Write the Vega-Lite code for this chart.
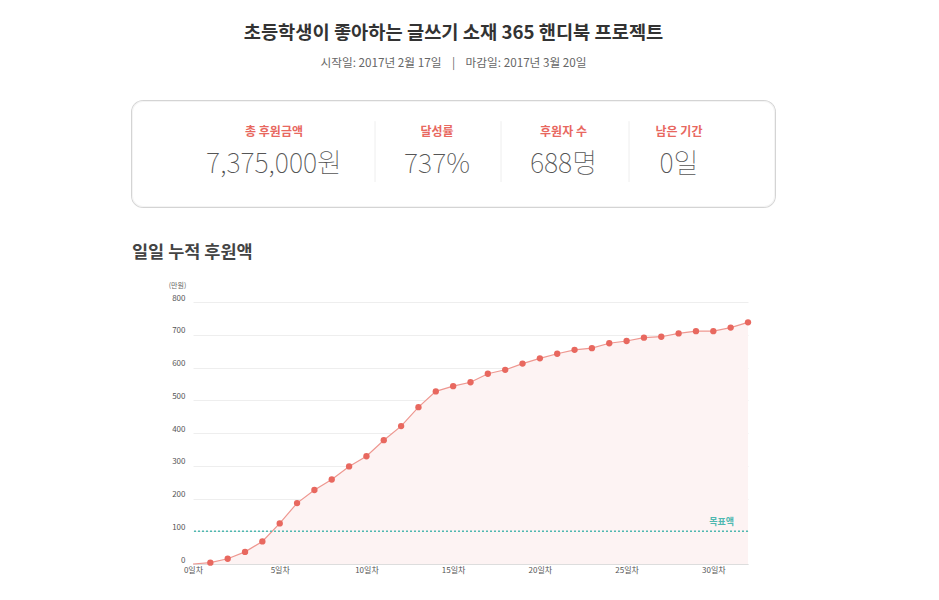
{
  "$schema": "https://vega.github.io/schema/vega-lite/v6.json",
  "background": "white",
  "padding": {"left": 131, "top": 23, "right": 10, "bottom": 5},
  "config": {
    "font": "Noto Sans CJK KR",
    "view": {"stroke": null}
  },
  "title": {
    "text": "초등학생이 좋아하는 글쓰기 소재 365 핸디북 프로젝트",
    "subtitle": "시작일: 2017년 2월 17일\u00a0\u00a0\u00a0\u00a0|\u00a0\u00a0\u00a0\u00a0마감일: 2017년 3월 20일",
    "anchor": "middle",
    "frame": "bounds",
    "font": "Noto Sans CJK KR",
    "fontSize": 18.7,
    "fontWeight": "bold",
    "color": "#333333",
    "subtitleFont": "Noto Sans CJK KR",
    "subtitleFontSize": 11.7,
    "subtitleColor": "#666666",
    "subtitlePadding": 16,
    "offset": 30
  },
  "spacing": 35,
  "vconcat": [
    {
      "width": 582,
      "height": 106,
      "data": {
        "values": [
          {"idx": 0, "label": "총 후원금액", "value": "7,375,000원"},
          {"idx": 1, "label": "달성률", "value": "737%"},
          {"idx": 2, "label": "후원자 수", "value": "688명"},
          {"idx": 3, "label": "남은 기간", "value": "0일"}
        ]
      },
      "layer": [
        {
          "mark": {"type": "rect", "fill": "white", "stroke": "#000000", "strokeOpacity": 0.045, "strokeWidth": 2, "cornerRadius": 11},
          "encoding": {
            "x": {"datum": -1, "type": "quantitative", "axis": null,
                  "scale": {"domain": [-1, 0, 0.5, 1, 1.5, 2, 2.5, 3, 4], "range": [-61, 81, 182, 244, 308, 370.5, 436, 486, 582], "nice": false, "zero": false}},
            "x2": {"datum": 4},
            "y": {"datum": 0, "type": "quantitative", "axis": null,
                  "scale": {"domain": [0, 10], "reverse": true, "nice": false, "zero": false}},
            "y2": {"datum": 10}
          }
        },
        {
          "mark": {"type": "text", "fontSize": 12, "fontWeight": "bold", "color": "#e8685f", "baseline": "middle"},
          "encoding": {
            "x": {"field": "idx", "type": "quantitative"},
            "y": {"datum": 2.9, "type": "quantitative"},
            "text": {"field": "label"}
          }
        },
        {
          "mark": {"type": "text", "fontSize": 27, "fontWeight": 100, "color": "#555555", "baseline": "middle"},
          "encoding": {
            "x": {"field": "idx", "type": "quantitative"},
            "y": {"datum": 6.0, "type": "quantitative"},
            "text": {"field": "value"}
          }
        },
        {
          "data": {"values": [{"gap": 0.5}, {"gap": 1.5}, {"gap": 2.5}]},
          "mark": {"type": "rule", "color": "#eeeeee", "strokeWidth": 1},
          "encoding": {
            "x": {"field": "gap", "type": "quantitative"},
            "y": {"datum": 1.9, "type": "quantitative"},
            "y2": {"datum": 7.65}
          }
        }
      ]
    },
    {
      "width": 555,
      "height": 262,
      "title": {
        "text": "일일 누적 후원액",
        "anchor": "start",
        "frame": "group",
        "dx": -61,
        "fontSize": 17.5,
        "fontWeight": "bold",
        "color": "#444444",
        "offset": 20
      },
      "data": {
        "values": [
          {"day": 0, "value": 0}, {"day": 1, "value": 4}, {"day": 2, "value": 16},
          {"day": 3, "value": 37}, {"day": 4, "value": 69}, {"day": 5, "value": 124},
          {"day": 6, "value": 186}, {"day": 7, "value": 226}, {"day": 8, "value": 258},
          {"day": 9, "value": 298}, {"day": 10, "value": 329}, {"day": 11, "value": 378},
          {"day": 12, "value": 421}, {"day": 13, "value": 479}, {"day": 14, "value": 527},
          {"day": 15, "value": 543}, {"day": 16, "value": 555}, {"day": 17, "value": 581},
          {"day": 18, "value": 593}, {"day": 19, "value": 612}, {"day": 20, "value": 628},
          {"day": 21, "value": 642}, {"day": 22, "value": 654}, {"day": 23, "value": 659},
          {"day": 24, "value": 674}, {"day": 25, "value": 681}, {"day": 26, "value": 691},
          {"day": 27, "value": 694}, {"day": 28, "value": 704}, {"day": 29, "value": 711},
          {"day": 30, "value": 711}, {"day": 31, "value": 722}, {"day": 32, "value": 738}
        ]
      },
      "layer": [
        {
          "mark": {"type": "area", "color": "#fdf3f3", "opacity": 1},
          "encoding": {
            "x": {"field": "day", "type": "quantitative",
                  "scale": {"domain": [0, 32], "nice": false, "zero": false},
                  "axis": {"values": [0, 5, 10, 15, 20, 25, 30], "labelExpr": "datum.value + '일차'",
                           "grid": false, "ticks": false, "domainColor": "#dddddd", "labelFontSize": 8,
                           "labelColor": "#555555", "labelPadding": 2, "labelFlush": false, "title": null,
                           "tickCount": 20}},
            "y": {"field": "value", "type": "quantitative",
                  "scale": {"domain": [0, 800], "nice": false},
                  "axis": {"values": [0, 100, 200, 300, 400, 500, 600, 700, 800], "tickCount": 20,
                           "grid": true, "gridColor": "#eeeeee",
                           "domain": false, "ticks": false, "labelFontSize": 8, "labelColor": "#555555",
                           "labelPadding": 8, "labelBaseline": "alphabetic", "labelOffset": -2,
                           "title": "(만원)", "titleAngle": 0, "titleFontSize": 7, "titleFontWeight": "normal",
                           "titleColor": "#666666", "titleX": -16, "titleY": -17, "titleAlign": "center",
                           "titleBaseline": "middle"}}
          }
        },
        {
          "mark": {"type": "line", "color": "#ee9790", "strokeWidth": 1.2},
          "encoding": {
            "x": {"field": "day", "type": "quantitative"},
            "y": {"field": "value", "type": "quantitative"}
          }
        },
        {
          "transform": [{"filter": "datum.day > 0"}],
          "mark": {"type": "point", "filled": true, "color": "#e8685f", "size": 40, "opacity": 1},
          "encoding": {
            "x": {"field": "day", "type": "quantitative"},
            "y": {"field": "value", "type": "quantitative"}
          }
        },
        {
          "data": {"values": [{"goal": 100, "label": "목표액"}]},
          "mark": {"type": "rule", "color": "#4fb8b0", "strokeDash": [2, 2], "strokeWidth": 1.5},
          "encoding": {
            "y": {"field": "goal", "type": "quantitative"}
          }
        },
        {
          "data": {"values": [{"goal": 100, "label": "목표액"}]},
          "mark": {"type": "text", "color": "#4fb8b0", "fontWeight": "bold", "fontSize": 9, "align": "right", "baseline": "middle", "dx": -14, "dy": -9},
          "encoding": {
            "x": {"datum": 32, "type": "quantitative"},
            "y": {"field": "goal", "type": "quantitative"},
            "text": {"field": "label"}
          }
        }
      ]
    }
  ]
}
